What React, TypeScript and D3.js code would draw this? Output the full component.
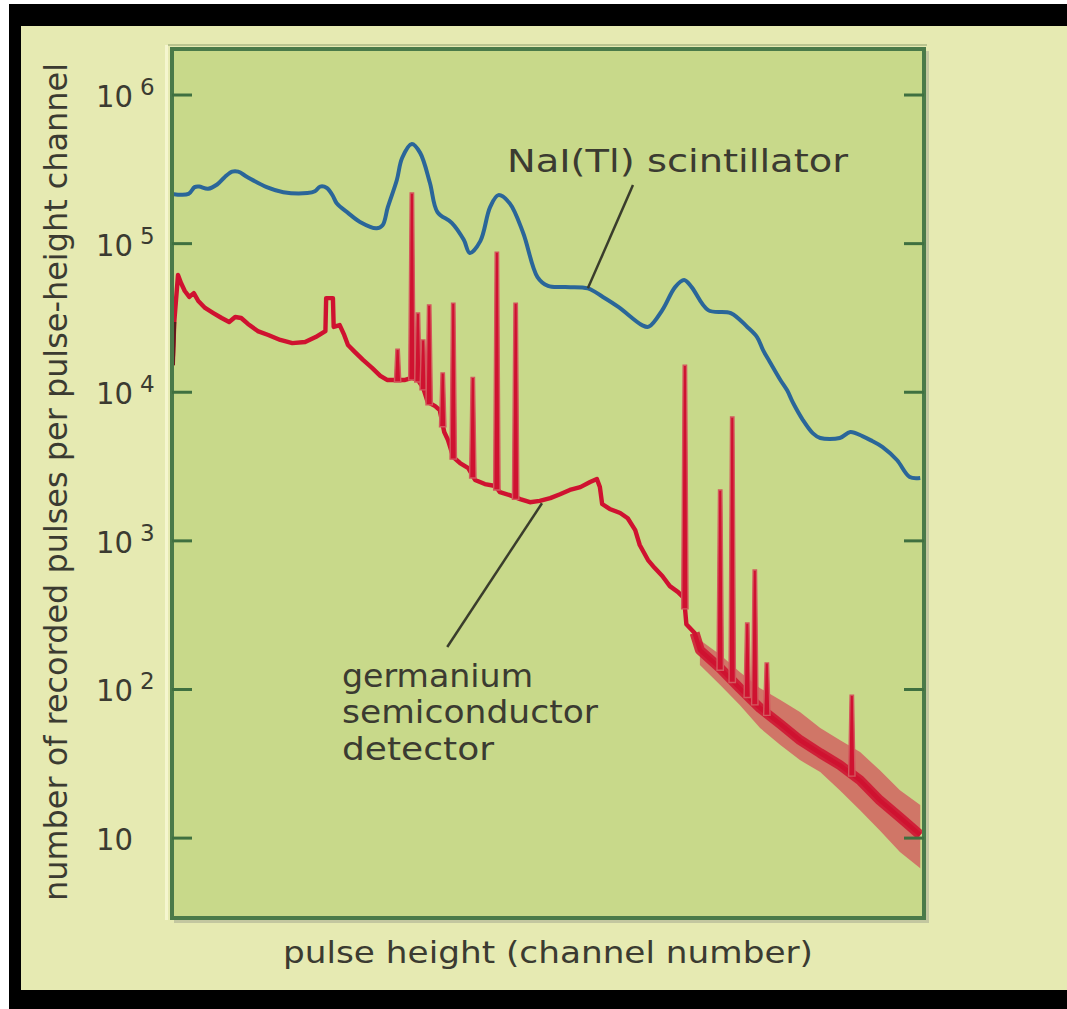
import React from 'react';
import * as d3 from 'd3';

const WIDTH = 1067;
const HEIGHT = 1009;

// NaI(Tl) scintillator spectrum: [channel, counts per channel]
const naiSpectrum: [number, number][] = [
  [0, 2.16e5], [22, 2.16e5], [30, 2.4e5], [36, 2.42e5], [48, 2.34e5], [60, 2.5e5], [70, 2.8e5],
  [80, 3.05e5], [88, 3.05e5], [100, 2.81e5], [126, 2.4e5], [148, 2.22e5], [180, 2.19e5],
  [190, 2.25e5], [197, 2.42e5], [206, 2.37e5], [214, 2.09e5], [219, 1.87e5], [234, 1.61e5],
  [250, 1.4e5], [272, 1.27e5], [280, 1.33e5], [287, 1.76e5], [299, 2.68e5], [306, 3.77e5],
  [319, 4.68e5], [330, 4.08e5], [343, 2.56e5], [353, 1.63e5], [372, 1.38e5], [388, 1.06e5],
  [396, 8.65e4], [410, 1.04e5], [423, 1.76e5], [434, 2.12e5], [449, 1.87e5], [467, 1.18e5],
  [486, 5.96e4], [500, 5.19e4], [523, 5.1e4], [553, 5.0e4], [573, 4.38e4], [594, 3.74e4],
  [625, 2.83e4], [634, 2.76e4], [652, 3.57e4], [669, 5.1e4], [681, 5.69e4], [691, 5.1e4],
  [713, 3.57e4], [743, 3.41e4], [765, 2.75e4], [778, 2.35e4], [786, 1.92e4], [795, 1.6e4],
  [809, 1.21e4], [818, 1.03e4], [826, 8.46e3], [839, 6.5e3], [852, 5.31e3], [862, 4.92e3],
  [888, 4.92e3], [902, 5.4e3], [918, 5.07e3], [931, 4.7e3], [945, 4.28e3], [964, 3.5e3],
  [981, 2.69e3], [995, 2.65e3],
];

// Germanium detector: continuum beneath the photopeaks, [channel, counts]
const geContinuum: [number, number][] = [
  [1, 1.52e4], [3, 2.97e4], [8, 6.15e4], [12, 5.43e4], [17, 4.8e4], [23, 4.38e4],
  [29, 4.65e4], [35, 4.11e4], [44, 3.69e4], [55, 3.41e4], [66, 3.16e4], [76, 2.97e4],
  [84, 3.21e4], [92, 3.16e4], [101, 2.88e4], [114, 2.58e4], [128, 2.43e4], [144, 2.25e4],
  [160, 2.14e4], [177, 2.18e4], [191, 2.35e4], [204, 2.58e4], [205, 4.3e4], [214, 4.3e4],
  [215, 2.75e4], [223, 2.83e4], [229, 2.43e4], [234, 2.08e4], [243, 1.87e4], [254, 1.65e4],
  [266, 1.46e4], [277, 1.29e4], [286, 1.21e4], [310, 1.21e4], [319, 1.25e4], [327, 1.21e4],
  [334, 1.07e4], [340, 8.59e3], [350, 8.07e3], [356, 7.59e3], [362, 5.4e3], [367, 4.77e3],
  [374, 3.66e3], [383, 3.34e3], [394, 3.09e3], [403, 2.57e3], [416, 2.41e3], [430, 2.34e3],
  [436, 2.13e3], [449, 2.03e3], [463, 1.91e3], [476, 1.82e3], [489, 1.86e3], [503, 1.94e3],
  [516, 2.06e3], [529, 2.2e3], [543, 2.3e3], [556, 2.49e3], [565, 2.61e3], [569, 2.3e3],
  [572, 1.77e3], [582, 1.64e3], [596, 1.54e3], [606, 1.42e3], [616, 1.18e3], [622, 938],
  [633, 743], [642, 656], [652, 580], [662, 496], [673, 452], [681, 411], [684, 275],
  [695, 240], [702, 184], [729, 139], [755, 102], [782, 75], [809, 58.5], [835, 45.7],
  [862, 37.3], [888, 31], [915, 24.5], [941, 18], [968, 13.8], [995, 10.5],
];

// Germanium photopeaks: [channel, peak counts]
const gePeaks: [number, number][] = [
  [300, 1.95e4], [319, 2.19e5], [327, 3.41e4], [334, 2.25e4], [342, 3.86e4], [360, 1.35e4],
  [374, 3.98e4], [400, 1.26e4], [432, 8.77e4], [457, 3.98e4], [682, 1.52e4], [729, 2.2e3],
  [745, 6.81e3], [765, 280], [775, 637], [791, 151], [904, 91.6],
];

// Statistical scatter of the germanium counts at high channel numbers
const geSpreadChannels = [702, 729, 755, 782, 809, 835, 862, 888, 915, 941, 968, 995];
const geSpreadHigh = [215, 171, 131, 102, 84.9, 70.5, 55, 45.7, 37.9, 28.7, 21, 16.7];
const geSpreadLow = [146, 107, 78.5, 55, 42.3, 33.5, 27.8, 21, 15.4, 11.3, 8.05, 6.28];

const yTickExponents = [1, 2, 3, 4, 5, 6];

// Annotation leaders: [channel, counts] at each end
const naiLeader: [number, number][] = [[613, 2.48e5], [553, 5.0e4]];
const geLeader: [number, number][] = [[366, 193], [492, 1.79e3]];

const TEXT = '#3b3b31';
const FONT = "'DejaVu Sans', Verdana, sans-serif";

export default function App() {
  const plot = { left: 172, top: 49, right: 924, bottom: 918 };
  const x = d3.scaleLinear().domain([0, 1000]).range([plot.left, plot.right]);
  const y = d3.scaleLog().domain([2.9, 2.04e6]).range([plot.bottom, plot.top]);

  const naiLine = d3
    .line<[number, number]>()
    .x((d) => x(d[0]))
    .y((d) => y(d[1]))
    .curve(d3.curveCatmullRom.alpha(0.5));

  const geLine = d3
    .line<[number, number]>()
    .x((d) => x(d[0]))
    .y((d) => y(d[1]));

  const spread = d3
    .area<number>()
    .x((c) => x(c))
    .y0((_, i) => y(geSpreadLow[i]))
    .y1((_, i) => y(geSpreadHigh[i]));

  // log-linear interpolation of the continuum under a peak
  const bis = d3.bisector((d: [number, number]) => d[0]).right;
  const continuumAt = (ch: number) => {
    const n = geContinuum.length;
    const i = bis(geContinuum, ch);
    const a = geContinuum[Math.max(0, i - 1)];
    const b = geContinuum[Math.min(n - 1, i)];
    const t = b[0] === a[0] ? 0 : (ch - a[0]) / (b[0] - a[0]);
    const la = Math.log10(a[1]);
    const lb = Math.log10(b[1]);
    return Math.pow(10, la + t * (lb - la));
  };

  const peakPath = (ch: number, v: number) => {
    const px = x(ch);
    const top = y(v);
    const base = y(continuumAt(ch)) + 2;
    return `M${px - 3.2},${base}L${px - 1.7},${top}L${px + 1.7},${top}L${px + 3.2},${base}Z`;
  };

  const tail = geContinuum.filter((d) => d[0] >= 695);

  return (
    <svg
      width={WIDTH}
      height={HEIGHT}
      viewBox={`0 0 ${WIDTH} ${HEIGHT}`}
      style={{ position: 'absolute', left: 0, top: 0 }}
      fontFamily={FONT}
    >
      <defs>
        <clipPath id="plot-clip">
          <rect x={plot.left} y={plot.top} width={plot.right - plot.left} height={plot.bottom - plot.top} />
        </clipPath>
      </defs>

      {/* frame */}
      <rect x={0} y={0} width={WIDTH} height={HEIGHT} fill="#ffffff" />
      <rect x={9} y={4} width={WIDTH - 9} height={HEIGHT - 4} fill="#000000" />
      <rect x={21} y={26} width={WIDTH - 21} height={990 - 26} fill="#e6eab2" />

      {/* plot panel bevel */}
      <rect x={plot.left + 2} y={plot.top + 2} width={plot.right - plot.left + 3} height={plot.bottom - plot.top + 3} fill="#c3c7a0" />
      <line x1={166.5} y1={plot.top - 4} x2={166.5} y2={plot.bottom + 2} stroke="#f5f6cf" strokeWidth={3} />
      <line x1={plot.left - 4} y1={45} x2={plot.right + 3} y2={45} stroke="#b9c48f" strokeWidth={2} />

      <rect x={plot.left} y={plot.top} width={plot.right - plot.left} height={plot.bottom - plot.top} fill="#c8d98a" />

      <g clipPath="url(#plot-clip)">
        {/* germanium scatter band */}
        <path d={spread(geSpreadChannels) || ''} fill="#d34c58" fillOpacity={0.7} />
        <path d={geLine(tail) || ''} fill="none" stroke="#cf1230" strokeOpacity={0.85} strokeWidth={10} strokeLinejoin="round" />
        <path
          d={geLine(geContinuum) || ''}
          fill="none"
          stroke="#cf1230"
          strokeWidth={4.4}
          strokeLinejoin="round"
        />
        <path
          d={geLine(geContinuum.slice(0, 2)) || ''}
          fill="none"
          stroke="#5e1a1c"
          strokeWidth={4}
        />
        {gePeaks.map(([ch, v]) => (
          <path key={ch} d={peakPath(ch, v)} fill="#cf1230" stroke="#d4585e" strokeWidth={1.4} />
        ))}

        {/* NaI(Tl) */}
        <path
          d={naiLine(naiSpectrum) || ''}
          fill="none"
          stroke="#2a6699"
          strokeWidth={4}
          strokeLinejoin="round"
        />
      </g>

      {/* border and ticks */}
      <rect
        x={plot.left}
        y={plot.top}
        width={plot.right - plot.left}
        height={plot.bottom - plot.top}
        fill="none"
        stroke="#4a7a49"
        strokeWidth={4}
      />
      {yTickExponents.map((e) => {
        const ty = y(Math.pow(10, e));
        return (
          <g key={e}>
            <line x1={plot.left} x2={plot.left + 20} y1={ty} y2={ty} stroke="#3f7040" strokeWidth={3} />
            <line x1={plot.right - 20} x2={plot.right} y1={ty} y2={ty} stroke="#3f7040" strokeWidth={3} />
            <text x={96} y={ty + 12} fontSize={30} fill={TEXT} textLength={37} lengthAdjust="spacingAndGlyphs">
              10
            </text>
            {e > 1 && (
              <text x={140} y={ty} fontSize={23} fill={TEXT}>
                {e}
              </text>
            )}
          </g>
        );
      })}

      {/* axis titles */}
      <text
        transform="translate(67,482) rotate(-90)"
        textAnchor="middle"
        fontSize={32}
        fill={TEXT}
        textLength={838}
        lengthAdjust="spacingAndGlyphs"
      >
        number of recorded pulses per pulse-height channel
      </text>
      <text x={548} y={963} textAnchor="middle" fontSize={31} fill={TEXT} textLength={530} lengthAdjust="spacingAndGlyphs">
        pulse height (channel number)
      </text>

      {/* annotations */}
      <text x={507} y={172} fontSize={32} fill={TEXT} textLength={341} lengthAdjust="spacingAndGlyphs">
        NaI(Tl) scintillator
      </text>
      <line
        x1={x(naiLeader[0][0])}
        y1={y(naiLeader[0][1])}
        x2={x(naiLeader[1][0])}
        y2={y(naiLeader[1][1])}
        stroke="#3a3d2c"
        strokeWidth={2.5}
      />
      <line
        x1={x(geLeader[0][0])}
        y1={y(geLeader[0][1])}
        x2={x(geLeader[1][0])}
        y2={y(geLeader[1][1])}
        stroke="#3a3d2c"
        strokeWidth={2.5}
      />
      <text x={342} y={687} fontSize={32} fill={TEXT} textLength={191} lengthAdjust="spacingAndGlyphs">
        germanium
      </text>
      <text x={342} y={723} fontSize={32} fill={TEXT} textLength={256} lengthAdjust="spacingAndGlyphs">
        semiconductor
      </text>
      <text x={342} y={760} fontSize={32} fill={TEXT} textLength={152} lengthAdjust="spacingAndGlyphs">
        detector
      </text>
    </svg>
  );
}
